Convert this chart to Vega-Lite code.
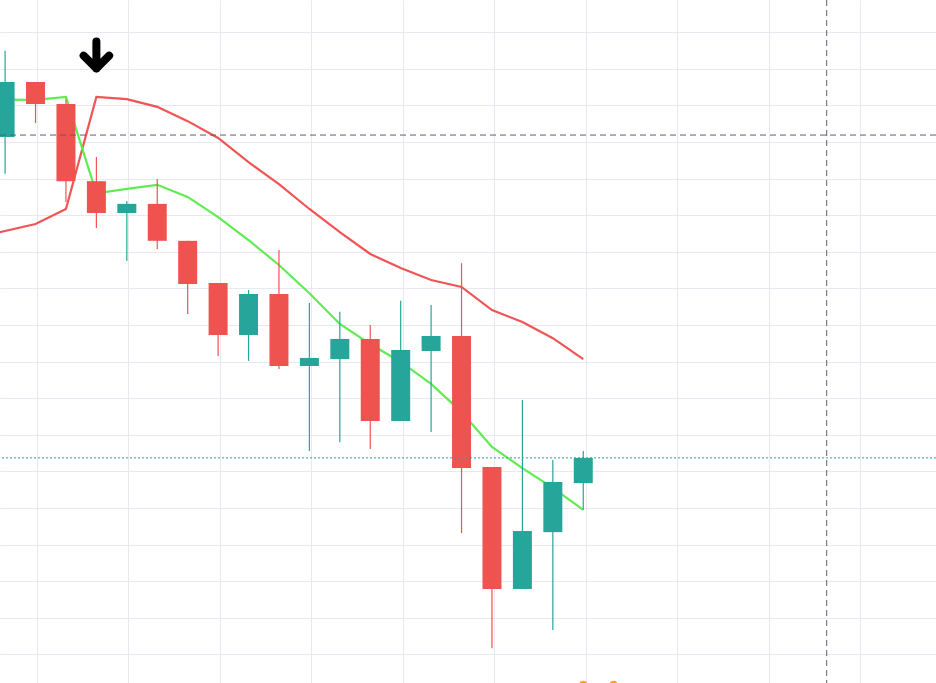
{
  "$schema": "https://vega.github.io/schema/vega-lite/v6.json",
  "width": 936,
  "height": 683,
  "autosize": {"type": "none"},
  "padding": 0,
  "background": "#ffffff",
  "config": {
    "view": {"stroke": null},
    "scale": {"continuousPadding": 0},
    "axis": {"domain": false, "ticks": false, "labels": false, "title": null, "gridColor": "#e6e9ef", "gridWidth": 1, "gridOpacity": 1}
  },
  "datasets": {
    "candles": [
      {"i": 0, "open": 1141.4, "high": 1164.9, "low": 1131.3, "close": 1156.4},
      {"i": 1, "open": 1156.4, "high": 1156.4, "low": 1145.2, "close": 1150.4},
      {"i": 2, "open": 1150.4, "high": 1151.7, "low": 1123.6, "close": 1129.3},
      {"i": 3, "open": 1129.3, "high": 1135.9, "low": 1116.5, "close": 1120.6},
      {"i": 4, "open": 1120.6, "high": 1123.9, "low": 1107.5, "close": 1123.1},
      {"i": 5, "open": 1123.1, "high": 1129.9, "low": 1110.8, "close": 1113.0},
      {"i": 6, "open": 1113.0, "high": 1113.0, "low": 1093.0, "close": 1101.2},
      {"i": 7, "open": 1101.5, "high": 1101.5, "low": 1081.5, "close": 1087.3},
      {"i": 8, "open": 1087.3, "high": 1099.6, "low": 1080.2, "close": 1098.5},
      {"i": 9, "open": 1098.5, "high": 1110.5, "low": 1078.0, "close": 1078.8},
      {"i": 10, "open": 1078.8, "high": 1096.0, "low": 1055.6, "close": 1081.0},
      {"i": 11, "open": 1080.7, "high": 1093.6, "low": 1058.0, "close": 1086.2},
      {"i": 12, "open": 1086.2, "high": 1090.0, "low": 1056.1, "close": 1063.8},
      {"i": 13, "open": 1063.8, "high": 1096.6, "low": 1063.8, "close": 1083.2},
      {"i": 14, "open": 1082.9, "high": 1095.5, "low": 1060.8, "close": 1087.0},
      {"i": 15, "open": 1087.0, "high": 1106.9, "low": 1033.2, "close": 1050.9},
      {"i": 16, "open": 1051.2, "high": 1051.2, "low": 1001.7, "close": 1017.9},
      {"i": 17, "open": 1017.9, "high": 1069.5, "low": 1017.9, "close": 1033.7},
      {"i": 18, "open": 1033.4, "high": 1053.1, "low": 1006.7, "close": 1047.1},
      {"i": 19, "open": 1046.8, "high": 1055.6, "low": 1039.5, "close": 1053.7}
    ],
    "slow": [
      {"i": -1, "v": 1113.8}, {"i": 0, "v": 1115.7}, {"i": 1, "v": 1117.6}, {"i": 2, "v": 1121.7},
      {"i": 3, "v": 1152.3}, {"i": 4, "v": 1151.7}, {"i": 5, "v": 1149.6}, {"i": 6, "v": 1145.7},
      {"i": 7, "v": 1141.1}, {"i": 8, "v": 1134.5}, {"i": 9, "v": 1128.5}, {"i": 10, "v": 1121.7},
      {"i": 11, "v": 1115.4}, {"i": 12, "v": 1109.4}, {"i": 13, "v": 1105.6}, {"i": 14, "v": 1102.3},
      {"i": 15, "v": 1100.4}, {"i": 16, "v": 1094.1}, {"i": 17, "v": 1090.8}, {"i": 18, "v": 1086.4},
      {"i": 19, "v": 1080.7}
    ],
    "fast": [
      {"i": 0, "v": 1151.6}, {"i": 1, "v": 1151.5}, {"i": 2, "v": 1152.3}, {"i": 3, "v": 1126.0},
      {"i": 4, "v": 1127.2}, {"i": 5, "v": 1128.3}, {"i": 6, "v": 1125.0}, {"i": 7, "v": 1119.5},
      {"i": 8, "v": 1113.2}, {"i": 9, "v": 1106.4}, {"i": 10, "v": 1098.7}, {"i": 11, "v": 1090.3},
      {"i": 12, "v": 1084.8}, {"i": 13, "v": 1079.9}, {"i": 14, "v": 1073.9}, {"i": 15, "v": 1066.2},
      {"i": 16, "v": 1056.7}, {"i": 17, "v": 1050.9}, {"i": 18, "v": 1045.5}, {"i": 19, "v": 1039.5}
    ],
    "vgrid": [{"i": 1.05}],
    "cross": [{"i": 27, "p": 1141.9}],
    "last": [{"p": 1053.7}],
    "signal": [{"i": 3, "p": 1163.8}],
    "badges": [{"i": 19, "p": 991.6}, {"i": 20, "p": 991.6}]
  },
  "layer": [
    {
      "data": {"name": "vgrid"},
      "mark": {"type": "point", "opacity": 0},
      "encoding": {
        "x": {"field": "i", "type": "quantitative",
              "scale": {"domain": [-0.1676, 30.592], "nice": false, "zero": false, "padding": 0},
              "axis": {"grid": true, "values": [1.05, 4.055, 7.06, 10.065, 13.07, 16.075, 19.08, 22.085, 25.09, 28.095]}},
        "y": {"datum": 1100, "type": "quantitative",
              "scale": {"domain": [992.19, 1178.8], "nice": false, "zero": false, "padding": 0},
              "axis": {"grid": true, "values": [1000, 1010, 1020, 1030, 1040, 1050, 1060, 1070, 1080, 1090, 1100, 1110, 1120, 1130, 1140, 1150, 1160, 1170]}}
      }
    },
    {
      "data": {"name": "slow"},
      "mark": {"type": "line", "color": "#f05454", "strokeWidth": 2.2, "clip": true},
      "encoding": {
        "x": {"field": "i", "type": "quantitative"},
        "y": {"field": "v", "type": "quantitative"}
      }
    },
    {
      "data": {"name": "fast"},
      "mark": {"type": "line", "color": "#5fec52", "strokeWidth": 2.2, "clip": true},
      "encoding": {
        "x": {"field": "i", "type": "quantitative"},
        "y": {"field": "v", "type": "quantitative"}
      }
    },
    {
      "data": {"name": "candles"},
      "mark": {"type": "rule", "strokeWidth": 1.2},
      "encoding": {
        "x": {"field": "i", "type": "quantitative"},
        "y": {"field": "low", "type": "quantitative"},
        "y2": {"field": "high"},
        "color": {"condition": {"test": "datum.close >= datum.open", "value": "#26a69a"}, "value": "#ef5350"}
      }
    },
    {
      "data": {"name": "candles"},
      "mark": {"type": "bar", "width": 19, "orient": "vertical"},
      "encoding": {
        "x": {"field": "i", "type": "quantitative"},
        "y": {"field": "open", "type": "quantitative"},
        "y2": {"field": "close"},
        "color": {"condition": {"test": "datum.close >= datum.open", "value": "#26a69a"}, "value": "#ef5350"}
      }
    },
    {
      "data": {"name": "last"},
      "mark": {"type": "rule", "color": "#26a69a", "strokeWidth": 1, "strokeDash": [2, 2]},
      "encoding": {"y": {"field": "p", "type": "quantitative"}}
    },
    {
      "data": {"name": "cross"},
      "mark": {"type": "rule", "color": "#5d606b", "strokeWidth": 1, "strokeDash": [6, 4]},
      "encoding": {"y": {"field": "p", "type": "quantitative"}}
    },
    {
      "data": {"name": "cross"},
      "mark": {"type": "rule", "color": "#5d606b", "strokeWidth": 1, "strokeDash": [6, 4]},
      "encoding": {"x": {"field": "i", "type": "quantitative"}}
    },
    {
      "data": {"name": "signal"},
      "mark": {"type": "point", "shape": "M0,-0.9L0,0.9M-0.85,0.05L0,0.9L0.85,0.05", "filled": false, "stroke": "#000000", "strokeWidth": 8, "strokeCap": "round", "strokeJoin": "round", "size": 900, "opacity": 1},
      "encoding": {
        "x": {"field": "i", "type": "quantitative"},
        "y": {"field": "p", "type": "quantitative"}
      }
    },
    {
      "data": {"name": "badges"},
      "mark": {"type": "point", "filled": true, "shape": "circle", "color": "#f5a623", "size": 80, "opacity": 1},
      "encoding": {
        "x": {"field": "i", "type": "quantitative"},
        "y": {"field": "p", "type": "quantitative"}
      }
    }
  ]
}
